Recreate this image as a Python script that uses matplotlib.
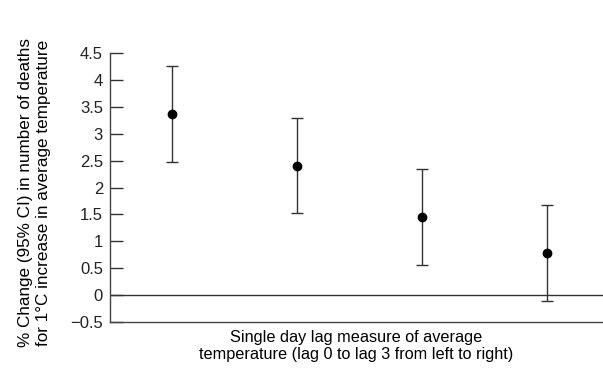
import numpy as np
import matplotlib.pyplot as plt

# lag 0..3, % change with 95% CI
lags = [0, 1, 2, 3]
estimate = [3.36, 2.40, 1.45, 0.79]
ci_low = [2.47, 1.52, 0.56, -0.11]
ci_high = [4.26, 3.30, 2.35, 1.68]
yticks = [-0.5, 0, 0.5, 1, 1.5, 2, 2.5, 3, 3.5, 4, 4.5]
ytick_labels = ['\u22120.5', '0', '0.5', '1', '1.5', '2', '2.5', '3', '3.5', '4', '4.5']

plt.rcParams['font.family'] = ['Liberation Sans', 'DejaVu Sans']
plt.rcParams['text.color'] = '#222222'
plt.rcParams['ytick.labelcolor'] = '#222222'

fig = plt.figure(figsize=(6.03, 3.76), dpi=100)
ax = fig.add_axes([0.1824, 0.1436, 0.8176, 0.7154])

est = np.array(estimate)
yerr = [est - np.array(ci_low), np.array(ci_high) - est]
ax.errorbar(lags, est, yerr=yerr, fmt='o', color='black', ms=6,
            ecolor='#333333', elinewidth=1, capsize=4, capthick=1)
ax.axhline(0, color='#333333', lw=1)

ax.set_xlim(-0.5, 3.45)
ax.set_ylim(-0.5, 4.5)
ax.set_xticks([])
ax.set_yticks(yticks)
ax.set_yticklabels(ytick_labels)
ax.tick_params(axis='y', direction='in', length=9, width=1, color='#333333',
               pad=5, labelsize=12)
for s in ['top', 'right']:
    ax.spines[s].set_visible(False)
for s in ['left', 'bottom']:
    ax.spines[s].set_color('#444444')
    ax.spines[s].set_linewidth(1)

ax.set_xlabel('Single day lag measure of average\ntemperature (lag 0 to lag 3 from left to right)',
              fontsize=11.7, labelpad=6, linespacing=1.1)
ax.set_ylabel('% Change (95% CI) in number of deaths\nfor 1\u00b0C increase in average temperature',
              fontsize=12.3, linespacing=1.2)
ax.yaxis.set_label_coords(-0.12, 0.48)

fig.savefig('out.png', dpi=100)
